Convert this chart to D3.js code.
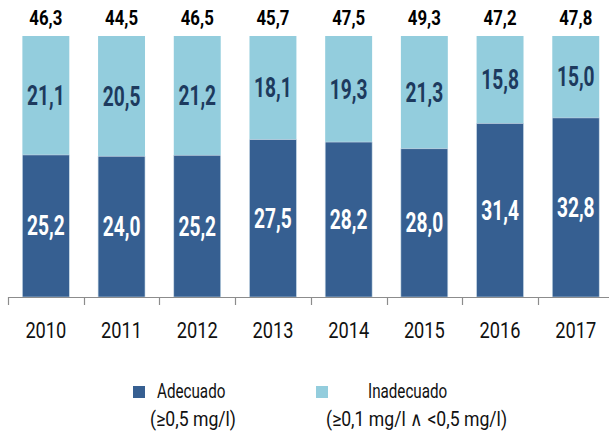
<!DOCTYPE html>
<html>
<head>
<meta charset="utf-8">
<script src="https://cdn.jsdelivr.net/npm/d3@7"></script>
<style>
  html, body { margin: 0; padding: 0; background: #fff; }
  svg { display: block; }
  text { font-family: Roboto, "Noto Sans", sans-serif; }
</style>
</head>
<body>
<svg id="chart" width="609" height="434"></svg>
<script>
const years = ["2010", "2011", "2012", "2013", "2014", "2015", "2016", "2017"];
const adecuado = [25.2, 24.0, 25.2, 27.5, 28.2, 28.0, 31.4, 32.8];
const inadecuado = [21.1, 20.5, 21.2, 18.1, 19.3, 21.3, 15.8, 15.0];
const totals = [46.3, 44.5, 46.5, 45.7, 47.5, 49.3, 47.2, 47.8];
const legendLabels = [["Adecuado", "(\u22650,5 mg/l)"], ["Inadecuado", "(\u22650,1 mg/l \u2227 <0,5 mg/l)"]];

const colDark = "#365f91";
const colLight = "#93cddd";

const svg = d3.select("#chart");
const fmt = v => v.toFixed(1).replace(".", ",");

// condensed text helper (horizontal compression to mimic a condensed face)
function addText(parent, x, y, str, o) {
  return parent.append("text")
    .attr("transform", `translate(${x},${y}) scale(${o.sx || 0.8},1)`)
    .attr("text-anchor", o.anchor || "middle")
    .attr("font-size", o.size)
    .attr("font-weight", o.weight || "normal")
    .attr("fill", o.fill || "#111")
    .text(str);
}

const x = d3.scaleBand().domain(years).range([8, 8 + 8 * 75.7]).paddingInner(0.38).paddingOuter(0.19);
const y = d3.scaleLinear().domain([0, 1]).range([297, 36]);

const data = years.map((yr, i) => {
  const t = adecuado[i] + inadecuado[i];
  return { yr, a: adecuado[i], b: inadecuado[i], total: totals[i], fa: adecuado[i] / t };
});

// bars
const g = svg.append("g");
g.selectAll("rect.light").data(data).join("rect")
  .attr("x", d => x(d.yr)).attr("width", x.bandwidth())
  .attr("y", y(1)).attr("height", d => y(d.fa) - y(1))
  .attr("fill", colLight);
g.selectAll("rect.dark").data(data).join("rect")
  .attr("x", d => x(d.yr)).attr("width", x.bandwidth())
  .attr("y", d => y(d.fa)).attr("height", d => y(0) - y(d.fa))
  .attr("fill", colDark)
  .attr("stroke", "#c9dbe8").attr("stroke-width", 0.6);

// labels
data.forEach(d => {
  const cx = x(d.yr) + x.bandwidth() / 2;
  addText(g, cx, (y(1) + y(d.fa)) / 2 + 9.5, fmt(d.b), { size: 27, weight: "bold", fill: "#1d3a5e", sx: 0.71 });
  addText(g, cx, (y(0) + y(d.fa)) / 2 + 9.5, fmt(d.a), { size: 27, weight: "bold", fill: "#ffffff", sx: 0.71 });
  addText(g, cx, 24.5, fmt(d.total), { size: 21, weight: "bold", fill: "#000", sx: 0.8 });
});

// axis
const ax = svg.append("g");
ax.append("line").attr("x1", 8).attr("x2", 609).attr("y1", 297.5).attr("y2", 297.5)
  .attr("stroke", "#8c8c8c").attr("stroke-width", 1.2);
const step = x.step();
years.forEach((yr, i) => {
  const tx = Math.round(8 + i * step) + 0.5;
  ax.append("line").attr("x1", tx).attr("x2", tx).attr("y1", 297).attr("y2", 305)
    .attr("stroke", "#8c8c8c").attr("stroke-width", 1.2);
});
years.forEach(yr => {
  addText(ax, x(yr) + x.bandwidth() / 2, 338, yr, { size: 22.5, fill: "#111", sx: 0.81 });
});

// legend
const lg = svg.append("g");
lg.append("rect").attr("x", 133).attr("y", 386).attr("width", 12).attr("height", 12).attr("fill", colDark);
addText(lg, 157, 397.5, legendLabels[0][0], { size: 19.5, anchor: "start", sx: 0.78 });
addText(lg, 193, 425.5, legendLabels[0][1], { size: 20.5, sx: 0.86 });
lg.append("rect").attr("x", 316).attr("y", 386).attr("width", 12).attr("height", 12).attr("fill", colLight);
addText(lg, 368, 397.5, legendLabels[1][0], { size: 19.5, anchor: "start", sx: 0.78 });
addText(lg, 416.5, 425.5, legendLabels[1][1], { size: 20.5, sx: 0.86 });
</script>
</body>
</html>
